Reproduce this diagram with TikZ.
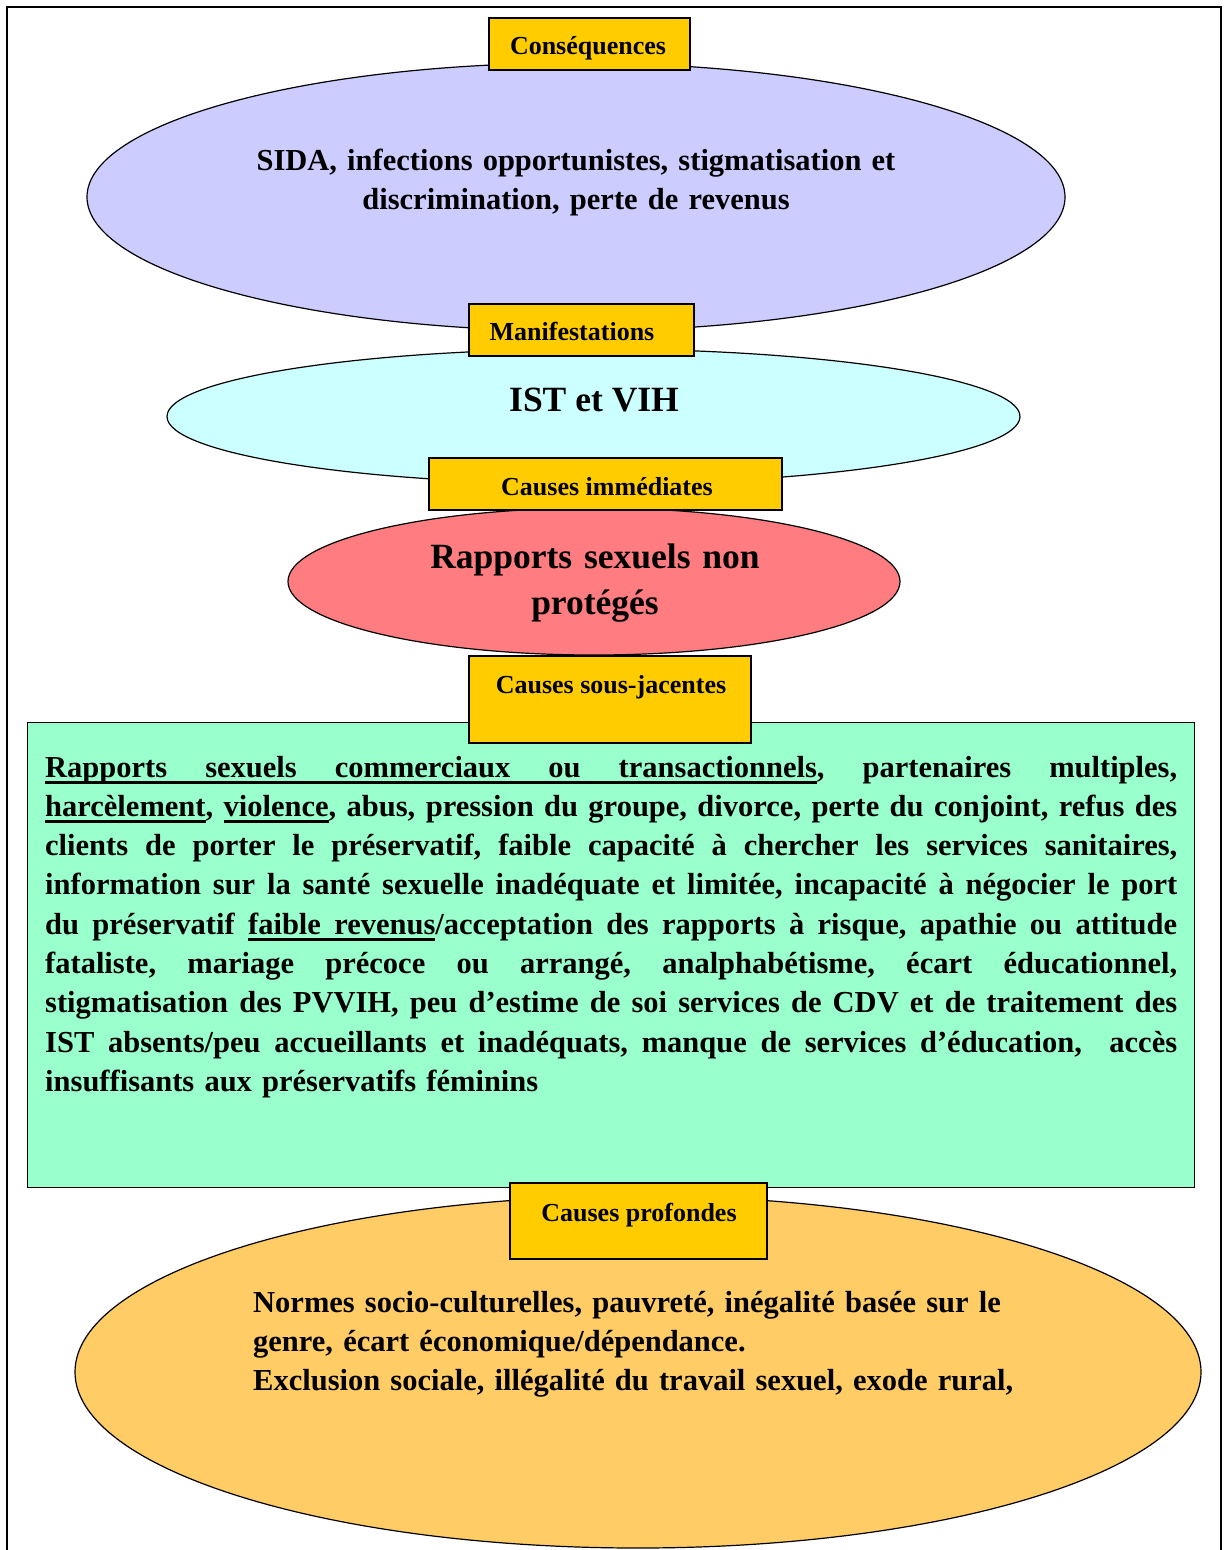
\documentclass[tikz,border=0pt]{standalone}
\usepackage{fontspec}
\setmainfont{Liberation Serif}
\usetikzlibrary{shapes.geometric}
\definecolor{lav}{HTML}{CCCCFF}
\definecolor{cyanl}{HTML}{CCFFFF}
\definecolor{coral}{HTML}{FF7C80}
\definecolor{mint}{HTML}{99FFCC}
\definecolor{apricot}{HTML}{FFCC66}
\definecolor{gold}{HTML}{FFCC00}
\newcommand\jline[1]{\makebox[\linewidth][s]{\frenchspacing\spaceskip=\fontdimen2\font plus 3\fontdimen3\font minus \fontdimen4\font\xspaceskip=\spaceskip #1}\\}
\newcommand\ulw[1]{\setbox0\hbox{#1}\rlap{\vrule height -4pt depth 6.6pt width \wd0}\box0}
\newcommand\uls{\leaders\vrule height -4pt depth 6.6pt\hskip\spaceskip\relax}
\tikzset{
  ell/.style={ellipse, draw=black, line width=1.2pt, inner sep=0pt},
  tagbox/.style={rectangle, draw=black, line width=1.2pt, fill=gold, inner sep=0pt},
  tagtxt/.style={font=\bfseries\fontsize{26}{30}\selectfont, inner sep=0pt, anchor=base},
  bodytxt/.style={font=\bfseries\fontsize{30.5}{39.3}\selectfont, inner sep=0pt},
  bigtxt/.style={font=\bfseries\fontsize{35.5}{46}\selectfont, inner sep=0pt}
}
\begin{document}
\begin{tikzpicture}[x=1pt,y=-1pt]
\useasboundingbox (0,0) rectangle (1226,1550);
\fill[white] (0,0) rectangle (1226,1550);
% outer frame
\draw[line width=1.4pt] (7,1560) |- (1221,7) -- (1221,1560);

% shapes
\node[ell, fill=lav, minimum width=978pt, minimum height=268pt] (e1) at (576,197) {};
\node[ell, fill=cyanl, minimum width=853pt, minimum height=135pt] (e2) at (593.5,416.5) {};
\node[ell, fill=coral, minimum width=612pt, minimum height=147pt] (e3) at (594,581.5) {};
\node[rectangle, draw=black, line width=1.2pt, fill=mint, inner sep=0pt, anchor=north west,
      minimum width=1167pt, minimum height=465pt] (g) at (27,722) {};
\node[ell, fill=apricot, minimum width=1126pt, minimum height=352pt] (e4) at (638,1372) {};

% tag boxes
\node[tagbox, minimum width=201pt, minimum height=52pt] (b1) at (589.5,44) {};
\node[tagbox, minimum width=225pt, minimum height=52pt] (b2) at (581.5,330) {};
\node[tagbox, minimum width=353pt, minimum height=52pt] (b3) at (605.5,484) {};
\node[tagbox, minimum width=282pt, minimum height=87pt] (b4) at (610,699.5) {};
\node[tagbox, minimum width=257pt, minimum height=76pt] (b5) at (638.5,1221) {};

\node[tagtxt] (t1) at (588,54) {Conséquences};
\node[tagtxt] (t2) at (572,340) {Manifestations};
\node[tagtxt] (t3) at (607,495) {Causes immédiates};
\node[tagtxt] (t4) at (611,693) {Causes sous-jacentes};
\node[tagtxt] (t5) at (639,1221) {Causes profondes};

% texts
\node[bodytxt, text width=760pt, align=center, anchor=base] (x1) at (576,170)
  {SIDA, infections opportunistes, stigmatisation et\\ discrimination, perte de revenus};
\node[bigtxt, anchor=base] (x2) at (594,411) {IST et VIH};
\node[bigtxt, text width=500pt, align=center, anchor=base] (x3) at (595,568)
  {Rapports sexuels non\\ protégés};
\node[bodytxt, text width=1132pt, align=left, anchor=base west] (x4) at (45,777)
  {\jline{\ulw{Rapports}\uls\ulw{sexuels}\uls\ulw{commerciaux}\uls\ulw{ou}\uls\ulw{transactionnels}, partenaires multiples,}%
   \jline{\ulw{harcèlement}, \ulw{violence}, abus, pression du groupe, divorce, perte du conjoint, refus des}%
   \jline{clients de porter le préservatif, faible capacité à chercher les services sanitaires,}%
   \jline{information sur la santé sexuelle inadéquate et limitée, incapacité à négocier le port}%
   \jline{du préservatif \ulw{faible}\uls\ulw{revenus}/acceptation des rapports à risque, apathie ou attitude}%
   \jline{fataliste, mariage précoce ou arrangé, analphabétisme, écart éducationnel,}%
   \jline{stigmatisation des PVVIH, peu d’estime de soi services de CDV et de traitement des}%
   \jline{IST absents/peu accueillants et inadéquats, manque de services d’éducation,\ \ accès}%
   insuffisants aux préservatifs féminins};
\node[bodytxt, text width=900pt, align=left, anchor=base west] (x5) at (253,1312)
  {Normes socio-culturelles, pauvreté, inégalité basée sur le\\
   genre, écart économique/dépendance.\\
   Exclusion sociale, illégalité du travail sexuel, exode rural,};
\end{tikzpicture}
\end{document}
